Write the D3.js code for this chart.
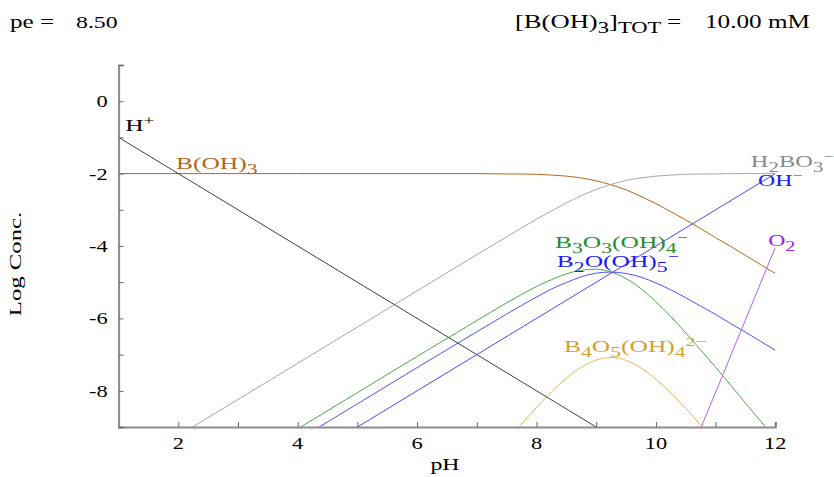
<!DOCTYPE html>
<html>
<head>
<meta charset="utf-8">
<script src="https://cdn.jsdelivr.net/npm/d3@7"></script>
<style>
  body { margin: 0; background: #fff; }
  svg { display: block; }
  text { font-family: "Liberation Serif", "Times New Roman", serif; }
</style>
</head>
<body>
<div id="chart"></div>
<script>
// Datos (pH y log de concentración)
const phGrid = [1, 2, 3, 4, 5, 6, 7, 7.5, 7.75, 8, 8.25, 8.5, 8.75, 9, 9.25, 9.5, 9.75, 10, 10.25, 10.5, 10.75, 11, 11.25, 11.5, 11.75, 12];
const logBOH3 = [-2, -2, -2, -2, -2, -2, -2.0, -2.01, -2.01, -2.02, -2.04, -2.07, -2.12, -2.2, -2.31, -2.45, -2.63, -2.83, -3.05, -3.28, -3.52, -3.77, -4.01, -4.26, -4.51, -4.76];
const logH2BO3 = [-10.24, -9.24, -8.24, -7.24, -6.24, -5.24, -4.24, -3.75, -3.5, -3.26, -3.03, -2.81, -2.61, -2.44, -2.3, -2.19, -2.12, -2.07, -2.04, -2.02, -2.01, -2.01, -2.0, -2.0, -2.0, -2.0];
const logB3O3 = [-12.05, -11.05, -10.05, -9.05, -8.05, -7.05, -6.06, -5.57, -5.34, -5.12, -4.93, -4.77, -4.67, -4.64, -4.72, -4.9, -5.18, -5.54, -5.95, -6.4, -6.87, -7.35, -7.84, -8.34, -8.83, -9.33];
const logB2O = [-12.36, -11.36, -10.36, -9.36, -8.36, -7.36, -6.37, -5.88, -5.64, -5.41, -5.19, -5.01, -4.85, -4.75, -4.72, -4.76, -4.86, -5.02, -5.21, -5.43, -5.66, -5.89, -6.14, -6.38, -6.63, -6.88];
const logB4O5 = [null, null, null, null, null, null, -10.37, -9.39, -8.92, -8.46, -8.03, -7.65, -7.35, -7.15, -7.08, -7.16, -7.37, -7.68, -8.06, -8.49, -8.95, -9.43, null, null, null, null];
const phH = [1, 9];
const logH = [-1, -9];
const phOH = [5, 12];
const logOH = [-9, -2];
const phO2 = [10.76, 12];
const logO2 = [-9, -4.04];

const xTicks = [1, 2, 3, 4, 5, 6, 7, 8, 9, 10, 11, 12];
const yTicks = [1, 0, -1, -2, -3, -4, -5, -6, -7, -8, -9];

// Dimensiones
const width = 834, height = 477;
const margin = { left: 118.6, right: 834 - 775.3, top: 65, bottom: 477 - 427 };
const sx = 1.4; // estiramiento horizontal del texto

const svg = d3.select("#chart").append("svg")
	.attr("width", width)
	.attr("height", height);

const x = d3.scaleLinear().domain([1, 12]).range([margin.left, width - margin.right]);
const y = d3.scaleLinear().domain([-9, 1]).range([height - margin.bottom, margin.top]);

// Texto con subíndices / superíndices
function label(g, px, py, parts, color, size, anchor, stretch) {
	const t = g.append("text")
		.attr("transform", `translate(${px},${py}) scale(${stretch || sx},1)`)
		.attr("fill", color)
		.attr("font-size", size)
		.attr("text-anchor", anchor || "start");
	let shift = 0;
	parts.forEach(p => {
		const [txt, kind] = Array.isArray(p) ? p : [p, null];
		let target = kind === "sub" ? 5 : kind === "sup" ? -6 : 0;
		t.append("tspan")
			.attr("dy", target - shift)
			.attr("font-size", kind === "sub" ? size * 0.85 : kind === "sup" ? size * 0.75 : size)
			.text(txt);
		shift = target;
	});
	return t;
}

// Series
const series = [
	{ xs: phGrid, ys: logBOH3, color: "#b5651d" },
	{ xs: phGrid, ys: logH2BO3, color: "#a8a8a8" },
	{ xs: phGrid, ys: logB3O3, color: "#4ea84e" },
	{ xs: phGrid, ys: logB2O, color: "#5050ff" },
	{ xs: phGrid, ys: logB4O5, color: "#e8b850" },
	{ xs: phH, ys: logH, color: "#404040" },
	{ xs: phOH, ys: logOH, color: "#4848ff" },
	{ xs: phO2, ys: logO2, color: "#b060ff" }
];

svg.append("clipPath").attr("id", "clip")
	.append("rect")
	.attr("x", x(1)).attr("y", y(1))
	.attr("width", x(12) - x(1)).attr("height", y(-9) - y(1));

const line = d3.line()
	.defined(d => d[1] != null)
	.x(d => x(d[0]))
	.y(d => y(d[1]))
	.curve(d3.curveMonotoneX);

const plot = svg.append("g").attr("clip-path", "url(#clip)");
series.forEach(s => {
	plot.append("path")
		.datum(s.xs.map((v, i) => [v, s.ys[i]]))
		.attr("fill", "none")
		.attr("stroke", s.color)
		.attr("stroke-width", 1)
		.attr("d", line);
});

// Ejes
const axisColor = "#8c8c8c";
const xAxis = svg.append("g")
	.attr("transform", `translate(0,${y(-9)})`)
	.call(d3.axisBottom(x).tickValues(xTicks).tickSize(-5).tickFormat(""));
const yAxis = svg.append("g")
	.attr("transform", `translate(${x(1)},0)`)
	.call(d3.axisLeft(y).tickValues(yTicks).tickSize(-5).tickFormat(""));
[xAxis, yAxis].forEach(a => {
	a.select(".domain").attr("stroke", axisColor).attr("stroke-width", 2);
	a.selectAll(".tick line").attr("stroke", "#666").attr("stroke-width", 1);
});

const labels = svg.append("g");
xTicks.filter(v => v % 2 === 0).forEach(v => {
	label(labels, x(v), y(-9) + 22, [String(v)], "#000", 16, "middle");
});
yTicks.filter(v => v % 2 === 0 && v <= 0).forEach(v => {
	label(labels, x(1) - 11, y(v) + 6, [String(v)], "#000", 16, "end");
});

// Títulos de ejes
label(labels, 445, 470, ["pH"], "#000", 17, "middle");
labels.append("text")
	.attr("transform", `translate(21,264) rotate(-90) scale(1.5,1)`)
	.attr("text-anchor", "middle")
	.attr("font-size", 16.5)
	.attr("fill", "#000")
	.text("Log Conc.");

// Cabecera
label(labels, 10, 28, ["pe ="], "#000", 18);
label(labels, 76, 28, ["8.50"], "#000", 17);
label(labels, 515, 28, ["[B(OH)", ["3", "sub"], "]", ["TOT", "sub"]], "#000", 19);
label(labels, 667, 28, ["="], "#000", 18);
label(labels, 705, 28, ["10.00 mM"], "#000", 18);

// Etiquetas de especies
const ls = 1.5;
label(labels, x(1.11), y(-0.83), ["H", ["+", "sup"]], "#000", 17, "start", ls);
label(labels, x(1.96), y(-1.86), ["B(OH)", ["3", "sub"]], "#b5651d", 17, "start", ls);
label(labels, x(11.59), y(-1.83), ["H", ["2", "sub"], "BO", ["3", "sub"], ["\u2212", "sup"]], "#8a8a8a", 17, "start", 1.44);
label(labels, x(11.71), y(-2.33), ["OH", ["\u2212", "sup"]], "#1a1aff", 17, "start", 1.4);
label(labels, x(8.31), y(-4.06), ["B", ["3", "sub"], "O", ["3", "sub"], "(OH)", ["4", "sub"], ["\u2212", "sup"]], "#2a8c2a", 17, "start", ls);
label(labels, x(8.34), y(-4.58), ["B", ["2", "sub"], "O(OH)", ["5", "sub"], ["\u2212", "sup"]], "#1a1aff", 17, "start", ls);
label(labels, x(8.46), y(-6.92), ["B", ["4", "sub"], "O", ["5", "sub"], "(OH)", ["4", "sub"], ["2\u2212", "sup"]], "#d4a030", 17, "start", ls);
label(labels, x(11.88), y(-4.0), ["O", ["2", "sub"]], "#a020f0", 17, "start", 1.4);
</script>
</body>
</html>
